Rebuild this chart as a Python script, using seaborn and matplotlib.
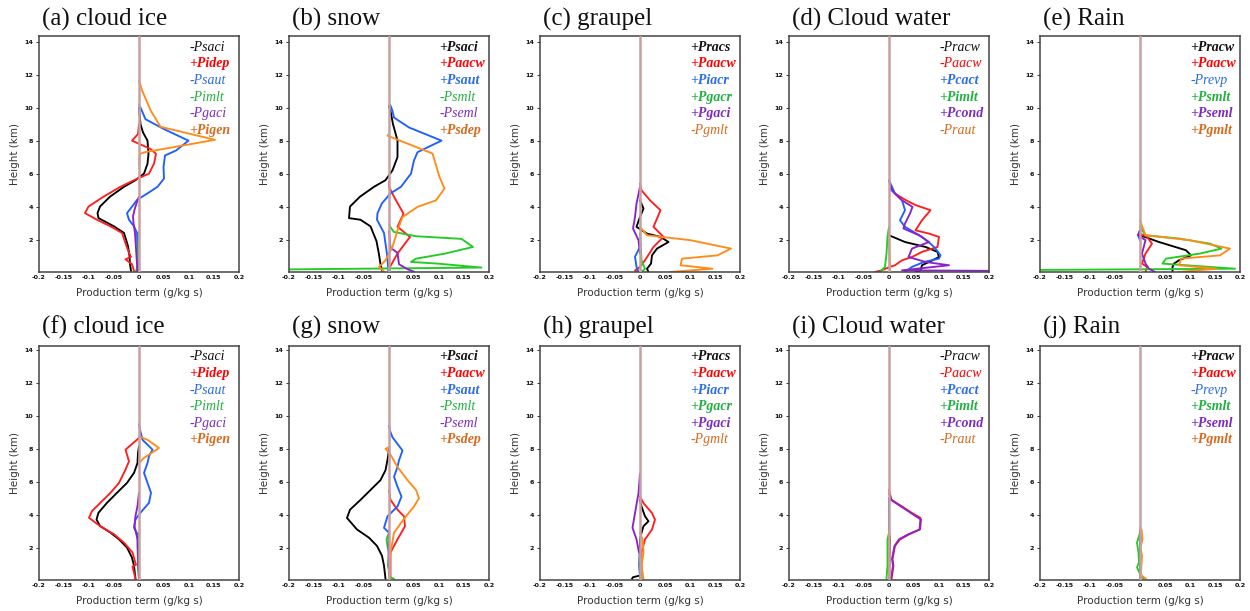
import matplotlib
matplotlib.use("Agg")
import matplotlib.pyplot as plt
import pandas as pd
import seaborn as sns

# ---------------- axes ----------------
x_ticks = [-0.2, -0.15, -0.1, -0.05, 0, 0.05, 0.1, 0.15, 0.2]
x_ticklabels = ["-0.2", "-0.15", "-0.1", "-0.05", "0", "0.05", "0.1", "0.15", "0.2"]
y_ticks = [2, 4, 6, 8, 10, 12, 14]

titles = ["(a) cloud ice", "(b) snow", "(c) graupel", "(d) Cloud water", "(e) Rain",
          "(f) cloud ice", "(g) snow", "(h) graupel", "(i) Cloud water", "(j) Rain"]

terms_ice = ["-Psaci", "+Pidep", "-Psaut", "-Pimlt", "-Pgaci", "+Pigen"]
terms_snow = ["+Psaci", "+Paacw", "+Psaut", "-Psmlt", "-Pseml", "+Psdep"]
terms_graupel = ["+Pracs", "+Paacw", "+Piacr", "+Pgacr", "+Pgaci", "-Pgmlt"]
terms_cloud = ["-Pracw", "-Paacw", "+Pcact", "+Pimlt", "+Pcond", "-Praut"]
terms_rain = ["+Pracw", "+Paacw", "-Prevp", "+Psmlt", "+Pseml", "+Pgmlt"]

# ---------------- profiles: (height km, production g/kg s) ----------------
# (a) cloud ice
a_psaci = [(0.1, -0.016), (0.5, -0.018), (1.0, -0.019), (1.6, -0.022), (2.4, -0.03), (2.8, -0.05),
           (3.3, -0.081), (3.6, -0.083), (4.0, -0.078), (4.6, -0.058), (5.2, -0.03), (5.6, -0.007),
           (6.0, 0.01), (6.6, 0.017), (7.2, 0.019), (8.0, 0.017), (8.5, 0.008), (9.0, 0.003), (10.0, 0.0)]
a_pidep = [(0.1, -0.01), (0.5, -0.014), (0.8, -0.027), (0.95, -0.016), (1.2, -0.02), (1.6, -0.025),
           (2.4, -0.034), (2.8, -0.057), (3.2, -0.084), (3.6, -0.108), (4.0, -0.101), (4.6, -0.071),
           (5.2, -0.037), (5.6, -0.01), (6.0, 0.02), (6.6, 0.03), (7.2, 0.034), (7.5, 0.023),
           (8.0, -0.014), (8.4, -0.002), (9.0, 0.0)]
a_psaut = [(0.1, -0.002), (1.5, -0.003), (2.4, -0.004), (2.8, -0.01), (3.2, -0.02), (3.6, -0.024),
           (4.0, -0.014), (4.4, -0.004), (4.8, 0.017), (5.2, 0.037), (5.7, 0.05), (6.4, 0.049),
           (7.1, 0.052), (7.4, 0.074), (8.0, 0.099), (8.7, 0.05), (9.3, 0.013), (9.8, 0.006), (10.2, 0.0)]
a_pimlt = [(0.05, -0.006), (0.3, -0.004), (1.0, -0.002), (2.5, 0.0)]
a_pgaci = [(0.1, -0.003), (1.0, -0.005), (2.4, -0.008), (3.0, -0.011), (3.4, -0.012), (3.8, -0.009),
           (4.2, -0.005), (4.6, 0.0)]
a_pigen = [(6.5, 0.0), (7.2, 0.002), (7.3, 0.012), (8.05, 0.152), (8.84, 0.043), (9.85, 0.023),
           (11.06, 0.006), (11.67, 0.0)]

# (b) snow
b_psaci = [(0.1, -0.014), (0.5, -0.017), (1.1, -0.02), (1.9, -0.025), (2.8, -0.037), (3.2, -0.057),
           (3.3, -0.08), (4.0, -0.078), (4.6, -0.058), (5.2, -0.03), (5.6, -0.007), (6.2, 0.007),
           (7.0, 0.017), (8.0, 0.017), (9.0, 0.008), (9.8, 0.003), (10.1, 0.0)]
b_paacw = [(0.1, 0.002), (0.34, 0.002), (1.15, 0.017), (2.16, 0.042), (2.77, 0.017), (3.57, 0.029),
           (4.6, 0.01), (5.2, 0.0), (5.5, 0.0)]
b_psaut = [(0.1, -0.001), (1.1, -0.004), (2.4, -0.01), (3.2, -0.024), (3.6, -0.023), (4.2, -0.014),
           (4.8, 0.003), (5.2, 0.024), (6.0, 0.044), (6.8, 0.05), (7.3, 0.057), (8.0, 0.105),
           (8.8, 0.04), (9.4, 0.01), (9.8, 0.007), (10.2, 0.002)]
b_psmlt = [(0.1, -0.5), (0.3, 0.185), (0.54, 0.097), (0.64, 0.044), (0.84, 0.054), (1.14, 0.111),
           (1.55, 0.168), (2.04, 0.145), (2.2, 0.054), (2.46, 0.01), (2.87, 0.0)]
b_pseml = [(0.05, 0.05), (0.2, 0.037), (0.5, 0.02), (1.2, 0.017), (1.5, 0.003), (2.5, 0.0)]
b_psdep = [(0.05, -0.01), (0.34, -0.02), (0.74, -0.007), (1.55, 0.007), (2.56, 0.017), (3.37, 0.027),
           (3.98, 0.057), (4.38, 0.094), (5.09, 0.111), (5.8, 0.101), (7.22, 0.087), (8.3, -0.003),
           (8.4, 0.0)]

# (c) graupel
c_pracs = [(0.03, 0.017), (0.23, 0.014), (0.54, 0.022), (1.04, 0.024), (1.45, 0.034), (1.85, 0.057),
           (2.16, 0.041), (2.36, 0.014), (2.77, -0.007), (3.37, 0.0), (3.88, 0.007), (4.38, 0.0)]
c_paacw = [(0.03, -0.007), (0.13, -0.01), (0.34, 0.0), (0.74, 0.01), (1.55, 0.027), (2.16, 0.047),
           (2.77, 0.027), (3.78, 0.041), (4.38, 0.02), (4.99, 0.003), (5.4, 0.0)]
c_piacr = [(0.03, -0.003), (0.34, -0.007), (0.96, -0.01), (1.55, 0.0)]
c_pgacr = [(0.03, 0.003), (0.23, 0.01), (0.74, 0.003), (2.36, 0.0)]
c_pgaci = [(1.15, 0.0), (1.96, -0.003), (2.67, -0.014), (3.37, -0.01), (4.18, -0.007), (5.19, 0.0)]
c_pgmlt = [(0.03, 0.06), (0.23, 0.145), (0.44, 0.081), (0.84, 0.084), (1.04, 0.155), (1.45, 0.182),
           (1.96, 0.101), (2.26, 0.014), (2.77, 0.0)]

# (d) cloud water
d_pracw = [(0.03, 0.053), (0.13, 0.063), (0.44, 0.066), (0.74, 0.087), (0.94, 0.1), (1.25, 0.097),
           (1.55, 0.073), (1.85, 0.032), (2.26, 0.0)]
d_paacw = [(0.03, -0.028), (0.13, -0.015), (0.34, 0.002), (0.44, 0.012), (0.74, 0.026), (0.94, 0.046),
           (1.25, 0.066), (1.55, 0.097), (2.16, 0.1), (2.36, 0.08), (2.56, 0.053), (3.17, 0.066),
           (3.78, 0.083), (4.08, 0.054), (4.38, 0.034), (4.79, 0.012), (5.19, 0.002)]
d_pcact = [(0.03, 0.032), (0.34, 0.046), (0.64, 0.07), (0.84, 0.1), (1.04, 0.103), (1.45, 0.093),
           (1.75, 0.083), (2.16, 0.066), (2.77, 0.032), (3.17, 0.022), (3.78, 0.032), (4.38, 0.026),
           (4.79, 0.012), (5.6, 0.0)]
d_pimlt = [(0.03, -0.018), (0.34, -0.008), (1.15, -0.005), (2.16, -0.003), (2.77, 0.0)]
d_pcond = [(0.08, 0.32), (0.13, 0.026), (0.44, 0.12), (0.64, 0.073), (0.94, 0.039), (1.45, 0.046),
           (1.85, 0.08), (2.26, 0.06), (2.67, 0.029), (2.97, 0.032), (3.58, 0.042), (3.98, 0.047),
           (4.38, 0.026), (4.99, 0.005), (5.6, 0.0)]
d_praut = [(0.03, 0.002), (2.0, 0.0)]

# (e) rain
e_pracw = [(0.03, 0.065), (0.34, 0.065), (0.54, 0.068), (0.74, 0.078), (1.04, 0.102), (1.35, 0.092),
           (1.85, 0.038), (2.26, 0.0)]
e_paacw = [(0.03, 0.011), (0.34, 0.014), (0.54, 0.004), (1.15, 0.011), (1.75, 0.024), (2.16, 0.014),
           (2.36, 0.0)]
e_prevp = [(1.96, 0.0), (2.26, -0.004), (2.56, 0.0)]
e_psmlt = [(0.1, -0.5), (0.23, 0.19), (0.44, 0.092), (0.54, 0.045), (0.84, 0.052), (1.15, 0.12),
           (1.45, 0.163), (1.75, 0.14), (2.06, 0.078), (2.26, 0.011), (2.77, 0.0)]
e_pseml = [(0.03, 0.03), (0.23, 0.018), (0.54, 0.011), (1.15, 0.004), (1.96, 0.011), (2.26, -0.004),
           (2.56, 0.0)]
e_pgmlt = [(0.03, 0.078), (0.23, 0.153), (0.44, 0.078), (0.84, 0.082), (1.04, 0.16), (1.45, 0.18),
           (1.96, 0.099), (2.26, 0.011), (3.17, 0.0)]

# (f) cloud ice
f_psaci = [(0.1, -0.007), (0.89, -0.01), (1.39, -0.014), (2.0, -0.024), (2.5, -0.04), (2.91, -0.057),
           (3.31, -0.078), (3.71, -0.085), (4.12, -0.081), (4.72, -0.064), (5.33, -0.044),
           (5.93, -0.024), (6.54, -0.01), (7.14, -0.003), (7.75, -0.002), (8.15, 0.0)]
f_pidep = [(0.1, -0.007), (0.85, -0.013), (0.95, -0.006), (1.7, -0.013), (2.3, -0.03), (2.81, -0.05),
           (3.31, -0.078), (3.81, -0.1), (4.22, -0.094), (4.82, -0.074), (5.33, -0.057),
           (5.93, -0.04), (6.74, -0.027), (7.24, -0.02), (7.95, -0.027), (8.66, 0.0)]
f_psaut = [(0.1, 0.0), (2.81, -0.003), (3.21, -0.01), (3.71, -0.007), (4.12, 0.003), (4.72, 0.02),
           (5.33, 0.024), (5.93, 0.017), (6.54, 0.01), (7.14, 0.017), (7.55, 0.02), (7.95, 0.027),
           (8.55, 0.007), (9.16, 0.002), (9.5, 0.0)]
f_pimlt = [(0.1, 0.0), (0.89, -0.002), (2.1, -0.003), (2.91, 0.0)]
f_pgaci = [(0.1, 0.0), (2.5, -0.003), (3.31, -0.009), (3.92, -0.007), (4.52, -0.003), (5.33, 0.0)]
f_pigen = [(7.14, 0.0), (7.45, 0.01), (8.05, 0.04), (8.55, 0.017), (8.76, 0.0)]

# (g) snow
g_psaci = [(0.1, -0.007), (0.9, -0.01), (1.5, -0.014), (2.1, -0.024), (2.6, -0.04), (3.1, -0.064),
           (3.8, -0.084), (4.3, -0.078), (4.9, -0.057), (5.5, -0.037), (6.1, -0.017), (6.7, -0.007),
           (7.5, -0.002), (8.0, 0.0)]
g_paacw = [(0.1, 0.003), (1.7, 0.003), (2.5, 0.017), (3.3, 0.032), (3.9, 0.03), (4.3, 0.017),
           (4.9, 0.003), (5.5, 0.0)]
g_psaut = [(2.9, 0.0), (3.2, -0.01), (3.9, -0.003), (4.5, 0.017), (5.1, 0.025), (5.7, 0.017),
           (6.3, 0.01), (6.9, 0.017), (7.3, 0.02), (7.9, 0.027), (8.7, 0.007), (9.1, 0.002), (9.4, 0.0)]
g_psmlt = [(0.1, 0.01), (0.2, 0.003), (0.9, -0.002), (1.7, 0.0), (2.1, -0.003), (2.5, -0.005),
           (2.9, 0.0)]
g_pseml = [(0.1, 0.0), (2.0, -0.001), (3.0, 0.0)]
g_psdep = [(0.1, 0.0), (1.7, 0.003), (2.9, 0.01), (3.5, 0.024), (3.9, 0.034), (4.5, 0.05), (5.0, 0.06),
           (5.5, 0.054), (6.1, 0.037), (6.9, 0.017), (7.7, 0.002), (8.0, -0.007), (8.1, 0.0)]

# (h) graupel
h_pracs = [(0.1, -0.016), (0.2, -0.014), (0.3, 0.0), (0.9, -0.001), (2.5, 0.0), (2.9, 0.003),
           (3.3, 0.007), (3.6, 0.017), (3.9, 0.01), (4.5, 0.003), (4.9, 0.0)]
h_paacw = [(0.1, 0.003), (1.7, 0.003), (2.5, 0.01), (3.1, 0.024), (3.7, 0.03), (4.1, 0.024),
           (4.7, 0.007), (5.1, 0.0)]
h_piacr = [(0.1, 0.0), (1.0, -0.001), (2.0, 0.0)]
h_pgacr = [(0.1, 0.002), (0.3, 0.004), (1.5, 0.0)]
h_pgaci = [(1.7, -0.002), (2.5, -0.007), (3.2, -0.015), (4.1, -0.01), (5.3, -0.003), (6.5, 0.0)]
h_pgmlt = [(0.1, 0.007), (0.9, 0.003), (1.7, 0.007), (2.5, 0.005), (2.9, 0.0)]

# (i) cloud water
i_pracw = [(0.1, 0.0), (2.5, 0.002), (3.0, 0.0)]
i_paacw = [(0.1, 0.005), (0.9, 0.009), (1.3, 0.007), (2.1, 0.012), (2.5, 0.022), (2.8, 0.04),
           (3.1, 0.061), (3.8, 0.063), (4.1, 0.046), (4.5, 0.026), (4.9, 0.005), (5.5, 0.0)]
i_pcact = [(0.1, 0.0), (5.0, 0.0)]
i_pimlt = [(0.1, -0.005), (0.9, -0.003), (2.5, -0.003), (2.9, 0.0)]
i_pcond = [(0.1, 0.004), (0.9, 0.008), (1.3, 0.006), (2.1, 0.011), (2.5, 0.02), (2.8, 0.038),
           (3.1, 0.062), (3.7, 0.064), (4.1, 0.044), (4.5, 0.024), (4.9, 0.004), (5.3, 0.0)]
i_praut = [(0.1, 0.0), (3.0, 0.0)]

# (j) rain
j_pracw = [(0.1, 0.0), (3.0, 0.0)]
j_paacw = [(0.1, 0.0), (3.0, 0.0)]
j_prevp = [(0.1, 0.0), (3.0, 0.0)]
j_psmlt = [(0.1, 0.008), (0.2, 0.003), (0.4, 0.0), (0.8, -0.006), (1.1, -0.002), (1.7, -0.003),
           (2.3, -0.006), (2.9, 0.0)]
j_pseml = [(2.5, 0.002), (3.0, 0.0)]
j_pgmlt = [(0.1, 0.012), (0.3, 0.003), (0.5, 0.002), (1.5, 0.004), (2.0, 0.001), (2.5, 0.005),
           (3.1, 0.003), (3.2, 0.0)]

panel_terms = [terms_ice, terms_snow, terms_graupel, terms_cloud, terms_rain] * 2
panel_profiles = [
    [a_psaci, a_pidep, a_psaut, a_pimlt, a_pgaci, a_pigen],
    [b_psaci, b_paacw, b_psaut, b_psmlt, b_pseml, b_psdep],
    [c_pracs, c_paacw, c_piacr, c_pgacr, c_pgaci, c_pgmlt],
    [d_pracw, d_paacw, d_pcact, d_pimlt, d_pcond, d_praut],
    [e_pracw, e_paacw, e_prevp, e_psmlt, e_pseml, e_pgmlt],
    [f_psaci, f_pidep, f_psaut, f_pimlt, f_pgaci, f_pigen],
    [g_psaci, g_paacw, g_psaut, g_psmlt, g_pseml, g_psdep],
    [h_pracs, h_paacw, h_piacr, h_pgacr, h_pgaci, h_pgmlt],
    [i_pracw, i_paacw, i_pcact, i_pimlt, i_pcond, i_praut],
    [j_pracw, j_paacw, j_prevp, j_psmlt, j_pseml, j_pgmlt],
]

# ---------------- style ----------------
line_colors = ["#000000", "#FF1E1E", "#1F5FFF", "#22CC22", "#8A22CC", "#FF8C1A"]
text_colors = ["#111111", "#FF0000", "#2A6BE6", "#22B040", "#7B2CBF", "#D86A1E"]
zero_color = "#C8A0A0"
frame_color = "#444444"

sns.set_style("white")
plt.rcParams["font.family"] = ["DejaVu Sans"]

W, H = 1250, 611
fig = plt.figure(figsize=(W / 100, H / 100), dpi=100)

col_left = [39, 289, 540, 789, 1040]
ax_w = 200
row_top = [36, 346]
row_bot = [272, 580]
row_ylim = [(0.03, 14.35), (0.03, 14.25)]

for k in range(10):
    r, c = divmod(k, 5)
    left, top, bot = col_left[c], row_top[r], row_bot[r]
    ax = fig.add_axes([left / W, 1 - bot / H, ax_w / W, (bot - top) / H])

    frames = []
    for s, (prof, term) in enumerate(zip(panel_profiles[k], panel_terms[k])):
        frames.append(pd.DataFrame({"height": [p[0] for p in prof],
                                    "rate": [p[1] for p in prof],
                                    "term": term}))
    df = pd.concat(frames, ignore_index=True)
    sns.lineplot(data=df, x="rate", y="height", hue="term",
                 hue_order=panel_terms[k], palette=line_colors,
                 sort=False, estimator=None, legend=False,
                 linewidth=1.35, ax=ax)
    ax.axvline(0, color=zero_color, lw=1.8, zorder=5)

    ax.set_xlim(-0.2, 0.2)
    ax.set_ylim(*row_ylim[r])
    ax.set_xticks(x_ticks)
    ax.set_xticklabels(x_ticklabels)
    ax.set_yticks(y_ticks)
    ax.set_yticklabels([str(v) for v in y_ticks])
    ax.tick_params(axis="x", length=0, pad=2.5, labelsize=4.6, labelcolor="#111111")
    ax.tick_params(axis="y", direction="out", length=2.5, width=0.7, pad=1.5,
                   labelsize=4.6, labelcolor="#111111", left=True, color="#333333")
    for lab in ax.get_xticklabels() + ax.get_yticklabels():
        lab.set_fontweight("bold")
    ax.set_xlabel("")
    ax.set_ylabel("")
    for sp in ax.spines.values():
        sp.set_color(frame_color)
        sp.set_linewidth(1.1)
        sp.set_visible(True)

    ax.text(-0.12, 0.5, "Height (km)", rotation=90, ha="center", va="center",
            transform=ax.transAxes, fontsize=7.5, color="#333333")
    ax.text(0.5, -0.09, "Production term (g/kg s)", ha="center", va="center",
            transform=ax.transAxes, fontsize=7.5, color="#333333")

    # term labels
    for s, term in enumerate(panel_terms[k]):
        bold = term.startswith("+")
        ax.text(0.75, 0.953 - s * 0.0707, term, transform=ax.transAxes,
                ha="left", va="center", fontsize=10, style="italic",
                fontweight="bold" if bold else "normal",
                family=["Liberation Serif", "DejaVu Serif"], color=text_colors[s], zorder=6)

    # panel title
    base = top - 10 if r == 0 else top - 12
    fig.text((left + 3) / W, 1 - base / H, titles[k], ha="left", va="baseline",
             fontsize=18, family=["Liberation Serif", "DejaVu Serif"], color="#111111")

fig.savefig("out.png", dpi=100, facecolor="white")
